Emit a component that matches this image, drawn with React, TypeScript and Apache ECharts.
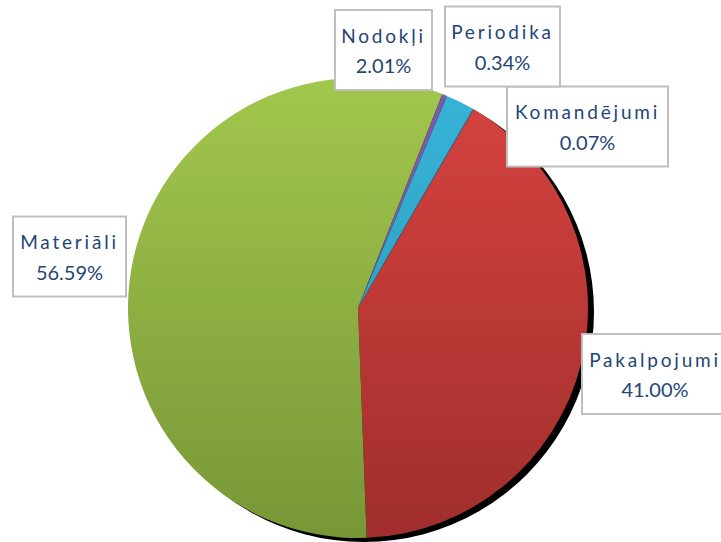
import React, { useEffect, useRef } from 'react';
import * as echarts from 'echarts';

// ---- data ----
const categories = ['Komandējumi', 'Pakalpojumi', 'Materiāli', 'Periodika', 'Nodokļi'];
const shares = [0.07, 41.0, 56.59, 0.34, 2.01];

// ---- styles / layout (kept apart from data) ----
const topColors = ['#4F81BD', '#D3423F', '#A2C74D', '#7E5AA6', '#37B3D7'];
const bottomColors = ['#4F81BD', '#A02E2C', '#779737', '#7E5AA6', '#2FA3C6'];
const labelCenters: [number, number][] = [
  [587.5, 126.5],
  [655, 374],
  [69.5, 256.5],
  [502.5, 46.5],
  [383.5, 50],
];
const labelWidths = [151, 136, 103, 105, 87];

const PIE_CENTER: [number, number] = [358, 308];
const PIE_RADIUS = 230;
const SHADOW_OFFSET: [number, number] = [6, 4];
const NAME_COLOR = '#1F4576';
const VALUE_COLOR = '#1F4575';
const FONT = 'Lato, "Open Sans", sans-serif';

export default function App() {
  const ref = useRef<HTMLDivElement | null>(null);

  useEffect(() => {
    if (!ref.current) return;
    const chart = echarts.init(ref.current, undefined, { renderer: 'svg' });
    const total = shares.reduce((a, b) => a + b, 0);

    const data = categories.map((name, i) => ({
      name,
      value: shares[i],
      itemStyle: {
        color: new echarts.graphic.LinearGradient(0, 0, 0, 1, [
          { offset: 0, color: topColors[i] },
          { offset: 1, color: bottomColors[i] },
        ]),
      },
      label: { width: labelWidths[i] },
    }));

    chart.setOption({
      animation: false,
      backgroundColor: '#ffffff',
      series: [
        {
          type: 'pie',
          name: 'shadow',
          silent: true,
          center: [PIE_CENTER[0] + SHADOW_OFFSET[0], PIE_CENTER[1] + SHADOW_OFFSET[1]],
          radius: PIE_RADIUS,
          z: 1,
          label: { show: false },
          labelLine: { show: false },
          itemStyle: { color: '#000000', borderWidth: 0 },
          emphasis: { disabled: true },
          data: [{ name: '', value: total }],
        },
        {
          type: 'pie',
          name: 'Izdevumi',
          center: PIE_CENTER,
          radius: PIE_RADIUS,
          startAngle: 60,
          clockwise: true,
          z: 2,
          avoidLabelOverlap: false,
          itemStyle: { borderWidth: 0 },
          emphasis: { disabled: true },
          labelLine: { show: false },
          label: {
            show: true,
            position: 'outside',
            overflow: 'none',
            formatter: (p: any) => `{n|${p.name}}\n{v|${Number(p.value).toFixed(2)}%}`,
            fontFamily: FONT,
            fontSize: 19,
            lineHeight: 30,
            color: VALUE_COLOR,
            align: 'center',
            backgroundColor: '#ffffff',
            borderColor: '#BFBFBF',
            borderWidth: 2,
            padding: [9, 4],
            rich: {
              n: { fontFamily: FONT, fontSize: 19, lineHeight: 30, color: NAME_COLOR, align: 'center' },
              v: { fontFamily: FONT, fontSize: 20, lineHeight: 30, color: VALUE_COLOR, align: 'center' },
            },
          },
          labelLayout: (params: any) => {
            const c = labelCenters[params.dataIndex];
            return { x: c[0], y: c[1], align: 'center', verticalAlign: 'middle' };
          },
          data,
        },
      ],
    });

    return () => {
      chart.dispose();
    };
  }, []);

  return (
    <>
      <style>{`.pie-host text[fill="${NAME_COLOR}"], .pie-host text[fill="${NAME_COLOR.toLowerCase()}"] { letter-spacing: 2.8px; }`}</style>
      <div
        ref={ref}
        className="pie-host"
        style={{ position: 'fixed', left: 0, top: 0, width: 721, height: 542 }}
      />
    </>
  );
}
